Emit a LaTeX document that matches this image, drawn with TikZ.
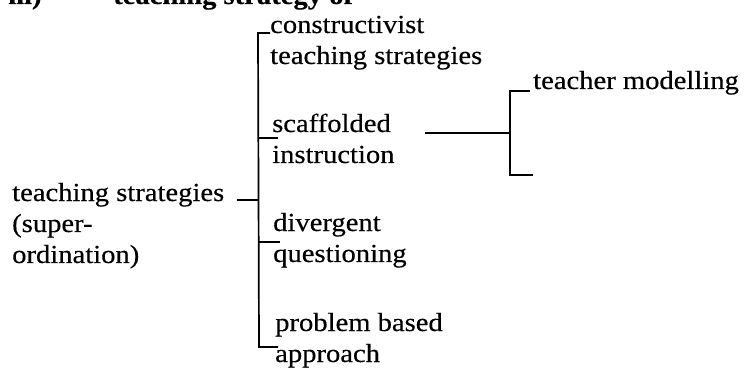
\documentclass[tikz,border=0pt]{standalone}
\usepackage{fontspec}
\setmainfont{Liberation Serif}[FakeStretch=1.1, FakeBold=0.35]
\begin{document}
\begin{tikzpicture}[x=1pt,y=-1pt,
  lbl/.style={inner sep=0pt, anchor=base west, align=left,
              font=\fontsize{26}{31}\selectfont},
  hdr/.style={inner sep=0pt, anchor=base west,
              font=\fontsize{26}{31}\selectfont\bfseries},
  link/.style={line width=1.7pt, line cap=butt, line join=miter}]
\useasboundingbox (0,0) rectangle (744,371);
\clip (0,0) rectangle (744,371);

% heading line (runs off the top edge)
\node[hdr] (num)   at (8,4)   {iii)};
\node[hdr] (title) at (113,4) {teaching strategy of};

% concepts (positioned by the baseline of their last line)
\node[lbl] (root) at (12,263)  {teaching strategies\\(super-\\ordination)};
\node[lbl] (c1)   at (270,64)  {constructivist\\teaching strategies};
\node[lbl] (c2)   at (272,163) {scaffolded\\instruction};
\node[lbl] (c3)   at (273,262) {divergent\\questioning};
\node[lbl] (c4)   at (275,362) {problem based\\approach};
\node[lbl] (g1)   at (533,89)  {teacher modelling};

% main bracket
\coordinate (trunkTop) at (258,33);
\coordinate (trunkBot) at (259,347);
\coordinate (c1t)   at (270,33);
\coordinate (c4t)   at (278,347);
\coordinate (rootT) at (237,200);
\coordinate (rootJ) at (258,200);
\coordinate (c2J)   at (258,138);
\coordinate (c2t)   at (278,138);
\coordinate (c3J)   at (258,242);
\coordinate (c3t)   at (280,242);

\draw[link] (c1t) -- (trunkTop) -- (trunkBot) -- (c4t);
\draw[link] (rootT) -- (rootJ);
\draw[link] (c2J) -- (c2t);
\draw[link] (c3J) -- (c3t);

% sub-bracket of scaffolded instruction
\coordinate (s0)  at (425,133);
\coordinate (s1)  at (510,133);
\coordinate (sTop) at (510,91);
\coordinate (sBot) at (510,175);
\coordinate (g1t) at (530,91);
\coordinate (g2t) at (533,175);

\draw[link] (s0) -- (s1);
\draw[link] (g1t) -- (sTop) -- (sBot) -- (g2t);
\end{tikzpicture}
\end{document}
